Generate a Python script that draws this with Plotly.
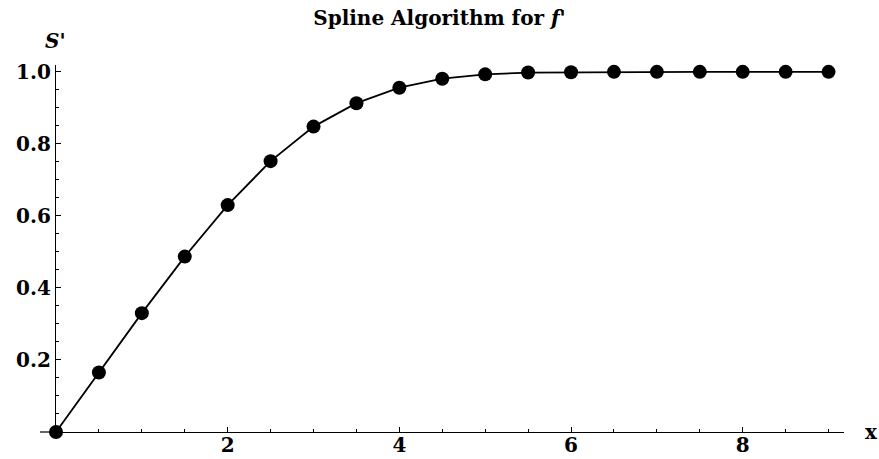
import plotly.graph_objects as go

x_vals = [0, 0.5, 1, 1.5, 2, 2.5, 3, 3.5, 4, 4.5, 5, 5.5, 6, 6.5, 7, 7.5, 8, 8.5, 9]
s_vals = [0.0, 0.165, 0.330, 0.487, 0.630, 0.752, 0.848, 0.913, 0.956, 0.981,
          0.993, 0.998, 0.999, 1.0, 1.0, 1.0, 1.0, 1.0, 1.0]
x_ticks = [2, 4, 6, 8]
y_ticks = [0.2, 0.4, 0.6, 0.8, 1.0]

FONT = "DejaVu Serif"

fig = go.Figure()
fig.add_trace(go.Scatter(
    x=x_vals, y=s_vals, mode="lines+markers",
    line=dict(color="black", width=1.8),
    marker=dict(color="black", size=14),
    cliponaxis=False, showlegend=False,
))

W, H = 879, 459
L, R, T, B = 56, 35, 65, 27

fig.update_layout(
    width=W, height=H,
    margin=dict(l=L, r=R, t=T, b=B, pad=0, autoexpand=False),
    paper_bgcolor="white", plot_bgcolor="white",
    title=dict(text="Spline Algorithm for <i>f'</i>", x=0.5, xanchor="center",
               y=1 - 18 / H, yanchor="middle",
               font=dict(family=FONT, size=20, color="black", weight="bold")),
    xaxis=dict(range=[0, 9.18], showgrid=False, zeroline=False, automargin=False,
               showline=True, linecolor="black", linewidth=1.2,
               ticks="inside", ticklen=5, tickcolor="black", tickwidth=1,
               tickvals=x_ticks, ticktext=[str(v) for v in x_ticks],
               ticklabelstandoff=-5,
               tickfont=dict(family=FONT, size=20, color="black", weight="bold"),
               minor=dict(dtick=0.5, tick0=0, ticks="inside", ticklen=3,
                          tickcolor="black", showgrid=False)),
    yaxis=dict(range=[0, 1.019], showgrid=False, zeroline=False, automargin=False,
               showline=True, linecolor="black", linewidth=1.2,
               ticks="inside", ticklen=5, tickcolor="black", tickwidth=1,
               tickvals=y_ticks, ticktext=[f"{v:.1f}" for v in y_ticks],
               tickfont=dict(family=FONT, size=20, color="black", weight="bold"),
               minor=dict(dtick=0.05, tick0=0, ticks="inside", ticklen=3,
                          tickcolor="black", showgrid=False)),
    shapes=[dict(type="line", xref="paper", yref="paper",
                 x0=-16 / (W - L - R), x1=0, y0=0, y1=0,
                 line=dict(color="black", width=1.2))],
    annotations=[
        dict(text="<i>S'</i>", xref="paper", yref="paper",
             x=-1 / (W - L - R), y=1 + 24 / (H - T - B),
             xanchor="center", yanchor="middle", showarrow=False,
             font=dict(family=FONT, size=20, color="black", weight="bold")),
        dict(text="x", xref="paper", yref="paper",
             x=1 + 27 / (W - L - R), y=0,
             xanchor="center", yanchor="middle", showarrow=False,
             font=dict(family=FONT, size=20, color="black", weight="bold")),
    ],
)

fig.write_html("out.html")
